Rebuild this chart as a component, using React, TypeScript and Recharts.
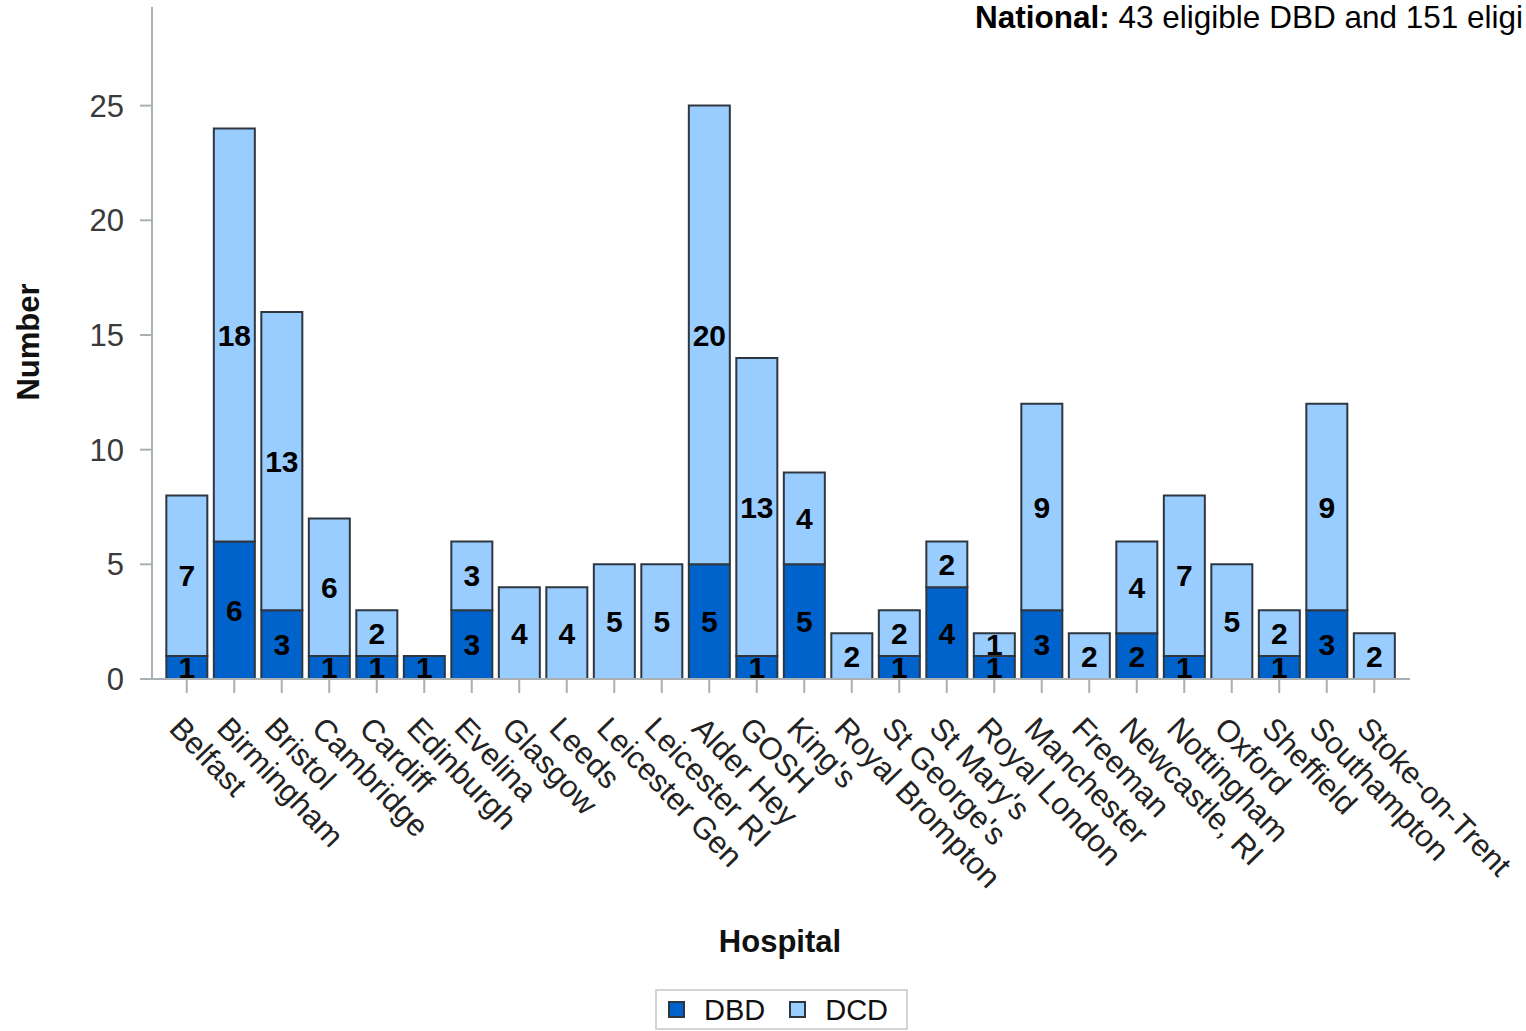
import React from 'react';
import { BarChart, Bar, XAxis, YAxis, Legend, LabelList } from 'recharts';

const hospitals = [
  'Belfast', 'Birmingham', 'Bristol', 'Cambridge', 'Cardiff', 'Edinburgh', 'Evelina',
  'Glasgow', 'Leeds', 'Leicester Gen', 'Leicester RI', 'Alder Hey', 'GOSH', "King's",
  'Royal Brompton', "St George's", "St Mary's", 'Royal London', 'Manchester', 'Freeman',
  'Newcastle, RI', 'Nottingham', 'Oxford', 'Sheffield', 'Southampton', 'Stoke-on-Trent',
];
const dbdValues = [1, 6, 3, 1, 1, 1, 3, 0, 0, 0, 0, 5, 1, 5, 0, 1, 4, 1, 3, 0, 2, 1, 0, 1, 3, 0];
const dcdValues = [7, 18, 13, 6, 2, 0, 3, 4, 4, 5, 5, 20, 13, 4, 2, 2, 2, 1, 9, 2, 4, 7, 5, 2, 9, 2];
const yTicks = [0, 5, 10, 15, 20, 25];
const seriesNames = ['DBD', 'DCD'];
const titleBold = 'National:';
const titleRest = ' 43 eligible DBD and 151 eligi';
const xTitle = 'Hospital';
const yTitle = 'Number';

const COLORS: Record<string, string> = { DBD: '#0063CC', DCD: '#99CCFF' };
const BORDER = '#2E3640';
const AXIS = '#A9B0B3';
const FONT = '"Liberation Sans", Arial, Helvetica, sans-serif';

const data = hospitals.map((h, i) => ({ hospital: h, DBD: dbdValues[i], DCD: dcdValues[i] }));

const HospitalTick = (props: any) => {
  const { x, y, payload } = props;
  const ax = x - 19;
  const ay = y + 37;
  return (
    <text
      x={ax}
      y={ay}
      transform={`rotate(46, ${ax}, ${ay})`}
      textAnchor="start"
      fontSize={31}
      fontFamily={FONT}
      fill="#222"
    >
      {payload.value}
    </text>
  );
};

const hideZero = (v: any) => (v === 0 || v === null || v === undefined ? '' : v);

const LegendBox = () => (
  <div
    style={{
      boxSizing: 'border-box',
      width: 253,
      height: 41,
      border: '2px solid #D4D4D4',
      display: 'flex',
      alignItems: 'center',
      fontFamily: FONT,
      fontSize: 29,
      color: '#111',
      paddingLeft: 11,
      background: '#fff',
    }}
  >
    {seriesNames.map((name, i) => (
      <div key={name} style={{ display: 'flex', alignItems: 'center', marginRight: i === 0 ? 24 : 0 }}>
        <div
          style={{
            boxSizing: 'border-box',
            width: 17,
            height: 17,
            background: COLORS[name],
            border: `2px solid ${BORDER}`,
            marginRight: 19,
          }}
        />
        <span style={{ lineHeight: '36px' }}>{name}</span>
      </div>
    ))}
  </div>
);

export default function App() {
  return (
    <div
      style={{
        position: 'absolute',
        left: 0,
        top: 0,
        width: 1526,
        height: 1031,
        overflow: 'hidden',
        background: '#fff',
      }}
    >
      <BarChart
        width={1526}
        height={1031}
        data={data}
        margin={{ top: 7, right: 116, bottom: 252, left: 0 }}
        barCategoryGap="7%"
      >
        <XAxis
          dataKey="hospital"
          type="category"
          height={100}
          interval={0}
          padding={{ left: 11, right: 12 }}
          axisLine={{ stroke: AXIS, strokeWidth: 2 }}
          tickLine={{ stroke: AXIS, strokeWidth: 2 }}
          tickSize={14}
          tickMargin={0}
          tick={<HospitalTick />}
        />
        <YAxis
          type="number"
          domain={[0, 29.3]}
          ticks={yTicks}
          width={152}
          allowDataOverflow
          axisLine={{ stroke: AXIS, strokeWidth: 2 }}
          tickLine={{ stroke: AXIS, strokeWidth: 2 }}
          tickSize={12}
          tickMargin={16}
          tick={{ fontSize: 31, fontFamily: FONT, fill: '#3A3A3A' }}
          label={{
            content: () => (
              <text
                x={39}
                y={342}
                transform="rotate(-90, 39, 342)"
                textAnchor="middle"
                fontSize={31}
                fontWeight="bold"
                fontFamily={FONT}
                fill="#111"
              >
                {yTitle}
              </text>
            ),
          }}
        />
        <Legend
          layout="horizontal"
          verticalAlign="middle"
          align="center"
          wrapperStyle={{ left: 655, top: 989, width: 253, height: 41 }}
          content={() => <LegendBox />}
        />
        {seriesNames.map((name) => (
          <Bar
            key={name}
            dataKey={name}
            name={name}
            stackId="a"
            fill={COLORS[name]}
            stroke={BORDER}
            strokeWidth={2}
            isAnimationActive={false}
          >
            <LabelList
              dataKey={name}
              position="center"
              formatter={hideZero}
              fontSize={30}
              fontWeight="bold"
              fontFamily={FONT}
              fill="#000"
              stroke="none"
            />
          </Bar>
        ))}
      </BarChart>
      <svg
        width={1526}
        height={1031}
        style={{ position: 'absolute', left: 0, top: 0, pointerEvents: 'none' }}
      >
        <text x={975} y={28} fontSize={31.5} fontFamily={FONT} fill="#000">
          <tspan fontWeight="bold">{titleBold}</tspan>
          <tspan>{titleRest}</tspan>
        </text>
        <text
          x={780}
          y={952}
          textAnchor="middle"
          fontSize={31}
          fontWeight="bold"
          fontFamily={FONT}
          fill="#111"
        >
          {xTitle}
        </text>
      </svg>
    </div>
  );
}
